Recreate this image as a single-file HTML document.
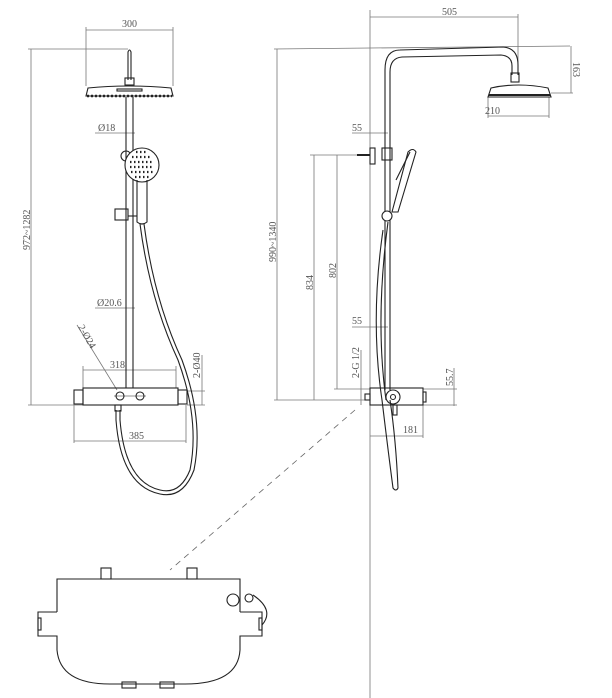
<!DOCTYPE html>
<html><head><meta charset="utf-8"><style>
html,body{margin:0;padding:0;background:#fff;width:612px;height:698px;overflow:hidden}
svg{display:block}
text{font-family:"Liberation Serif",serif;font-size:10px;fill:#555}
</style></head><body>
<svg width="612" height="698" viewBox="0 0 612 698" xmlns="http://www.w3.org/2000/svg">
<g fill="none" stroke="#777" stroke-width="0.8">
<line x1="86" y1="27" x2="86" y2="86"/><line x1="173" y1="27" x2="173" y2="86"/><line x1="86" y1="30" x2="173" y2="30"/>
<line x1="31" y1="49" x2="31" y2="405"/><line x1="28" y1="49" x2="128" y2="49"/><line x1="28" y1="405" x2="83" y2="405"/>
<line x1="95" y1="133" x2="135" y2="133"/>
<line x1="95" y1="308" x2="135" y2="308"/>
<line x1="77" y1="325" x2="117" y2="390"/>
<line x1="83" y1="366" x2="83" y2="388"/><line x1="176" y1="366" x2="176" y2="388"/><line x1="83" y1="370" x2="176" y2="370"/>
<line x1="202" y1="355" x2="202" y2="405"/><line x1="187" y1="391" x2="205" y2="391"/><line x1="187" y1="405" x2="205" y2="405"/>
<line x1="74" y1="405" x2="74" y2="443"/><line x1="186" y1="405" x2="186" y2="443"/><line x1="74" y1="441" x2="186" y2="441"/>
<line x1="370" y1="10" x2="370" y2="698"/><line x1="518" y1="14" x2="518" y2="70"/><line x1="370" y1="17" x2="518" y2="17"/>
<line x1="277" y1="49" x2="277" y2="400"/><line x1="274" y1="49" x2="570" y2="46"/><line x1="274" y1="400" x2="370" y2="400"/>
<line x1="571" y1="46" x2="571" y2="93"/><line x1="551" y1="93" x2="573" y2="93"/>
<line x1="488" y1="97" x2="488" y2="118"/><line x1="549" y1="97" x2="549" y2="118"/><line x1="488" y1="116" x2="549" y2="116"/>
<line x1="352" y1="133" x2="388" y2="133"/>
<line x1="310" y1="155" x2="360" y2="155"/>
<line x1="314" y1="155" x2="314" y2="400"/><line x1="337" y1="155" x2="337" y2="389"/><line x1="334" y1="389" x2="370" y2="389"/>
<line x1="352" y1="327" x2="388" y2="327"/>
<line x1="361" y1="350" x2="361" y2="405"/>
<line x1="454" y1="368" x2="454" y2="406"/><line x1="423" y1="389" x2="457" y2="389"/><line x1="423" y1="405" x2="457" y2="405"/>
<line x1="423" y1="405" x2="423" y2="438"/><line x1="370" y1="436" x2="423" y2="436"/>
</g>
<line x1="355" y1="410" x2="170" y2="570" stroke="#666" stroke-width="0.8" stroke-dasharray="6,5"/>
<g font-size="10">
<text x="122" y="27">300</text>
<text x="442" y="15">505</text>
<text x="98" y="131">Ø18</text>
<text x="97" y="306">Ø20.6</text>
<text x="110" y="368">318</text>
<text x="129" y="439">385</text>
<text x="485" y="114">210</text>
<text x="352" y="131">55</text>
<text x="352" y="324">55</text>
<text x="403" y="433">181</text>
<text transform="translate(30,250) rotate(-90)">972~1282</text>
<text transform="translate(276,262) rotate(-90)">990~1340</text>
<text transform="translate(313,290) rotate(-90)">834</text>
<text transform="translate(336,278) rotate(-90)">802</text>
<text transform="translate(359,378) rotate(-90)">2-G 1/2</text>
<text transform="translate(453,386) rotate(-90)">55.7</text>
<text transform="translate(200,378) rotate(-90)">2-Ø40</text>
<text transform="translate(573,62) rotate(90)">163</text>
<text transform="translate(78,327) rotate(60)">2-Ø24</text>
</g>
<g fill="none" stroke="#222" stroke-width="1.1">
<path d="M128,80 V52 Q129.5,48 131,52 V80"/>
<rect x="125" y="78" width="9" height="7"/>
<path d="M86,96 L88,88 Q130,84 171,88 L173,96 Z"/>
<line x1="87" y1="96" x2="172" y2="96" stroke-width="2.5" stroke-dasharray="2,2"/>
<rect x="117" y="89" width="25" height="2"/>
<line x1="126" y1="97" x2="126" y2="388"/><line x1="133" y1="97" x2="133" y2="388"/>
<circle cx="126" cy="156" r="5"/>
<circle cx="142" cy="165" r="17" fill="#fff"/>
<g stroke="#222" stroke-width="2.2" stroke-dasharray="1.5,2.5">
<line x1="132" y1="157" x2="152" y2="157"/><line x1="130" y1="162" x2="154" y2="162"/><line x1="130" y1="167" x2="154" y2="167"/><line x1="131" y1="172" x2="153" y2="172"/><line x1="135" y1="177" x2="149" y2="177"/><line x1="136" y1="152" x2="148" y2="152"/>
</g>
<path d="M137,180 V222 Q142,226 147,222 V180"/>
<rect x="115" y="209" width="13" height="11"/>
<path d="M128,216 H137"/>
<path d="M140,224 Q150,300 178,360 Q200,420 190,470 Q180,495 160,490 Q125,482 120,420 V410"/>
<path d="M144,224 Q154,300 182,360 Q204,420 194,470 Q183,499 160,494 Q121,486 116,420 V410"/>
<rect x="83" y="388" width="95" height="17"/>
<rect x="74" y="390" width="9" height="14"/><rect x="178" y="390" width="9" height="14"/>
<circle cx="120" cy="396" r="4"/><circle cx="140" cy="396" r="4"/>
<line x1="114" y1="396" x2="146" y2="396" stroke-width="0.6"/>
<rect x="115" y="405" width="6" height="6"/>
<path d="M385,390 V70 Q385,50 400,50 L503,47 Q518,48 518,65 V75"/>
<path d="M390,390 V72 Q390,58 402,57 L501,55 Q512,56 512,66 V75"/>
<rect x="511" y="73" width="8" height="9"/>
<path d="M488,97 L491,88 Q518,82 548,88 L551,97 Z"/>
<line x1="489" y1="95" x2="550" y2="95" stroke-width="2"/>
<rect x="370" y="148" width="5" height="16"/><line x1="357" y1="155" x2="370" y2="155" stroke-width="2"/>
<rect x="382" y="148" width="10" height="12"/>
<path d="M392,212 L408,152 Q413,147 416,152 L398,212 Z"/>
<path d="M396,180 L410,152"/>
<circle cx="387" cy="216" r="5" fill="#fff"/>
<path d="M383,230 Q370,320 382,400 Q388,450 393,488 Q396,492 398,488 Q396,440 390,400"/>
<path d="M388,222 Q375,320 386,400"/>
<rect x="370" y="388" width="53" height="17"/>
<circle cx="393" cy="397" r="7"/><circle cx="393" cy="397" r="2.5"/>
<rect x="423" y="392" width="3" height="10"/>
<rect x="365" y="394" width="5" height="6"/>
<rect x="393" y="405" width="4" height="10"/>
<path d="M57,612 V579 H240 V612"/>
<path d="M57,612 H38 V636 H57 V650 Q60,684 110,684 H185 Q238,684 240,650 V636 H262 V612 H240"/>
<rect x="101" y="568" width="10" height="11"/><rect x="187" y="568" width="10" height="11"/>
<rect x="38" y="618" width="3" height="12"/><rect x="259" y="618" width="3" height="12"/>
<circle cx="233" cy="600" r="6"/>
<circle cx="249" cy="598" r="4"/>
<path d="M253,595 Q275,610 262,625"/>
<rect x="122" y="682" width="14" height="6"/><rect x="160" y="682" width="14" height="6"/>
</g>
</svg>
</body></html>
